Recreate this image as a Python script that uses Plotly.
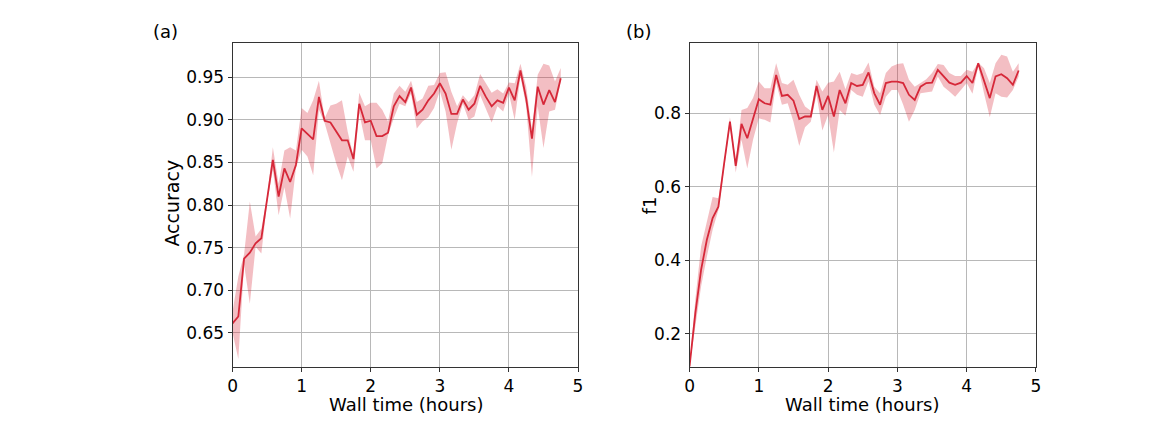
import plotly.graph_objects as go

# ---- data ----
time_hours = [i / 12 for i in range(58)]

acc_mean = [0.661, 0.669, 0.737, 0.744, 0.755, 0.761, 0.807, 0.853, 0.810, 0.843,
            0.827, 0.847, 0.890, 0.883, 0.877, 0.927, 0.899, 0.897, 0.886, 0.876,
            0.876, 0.854, 0.919, 0.897, 0.899, 0.881, 0.881, 0.885, 0.916, 0.928,
            0.921, 0.938, 0.906, 0.912, 0.923, 0.931, 0.943, 0.931, 0.907, 0.907,
            0.924, 0.912, 0.919, 0.940, 0.927, 0.916, 0.923, 0.920, 0.938, 0.923,
            0.958, 0.925, 0.878, 0.939, 0.918, 0.935, 0.921, 0.949]
acc_upper = [0.675, 0.716, 0.742, 0.804, 0.763, 0.772, 0.810, 0.868, 0.825, 0.864,
             0.868, 0.864, 0.914, 0.908, 0.923, 0.946, 0.902, 0.917, 0.919, 0.923,
             0.886, 0.857, 0.932, 0.916, 0.920, 0.920, 0.912, 0.898, 0.931, 0.940,
             0.933, 0.946, 0.921, 0.925, 0.940, 0.941, 0.955, 0.956, 0.933, 0.916,
             0.929, 0.921, 0.929, 0.954, 0.943, 0.932, 0.936, 0.931, 0.944, 0.943,
             0.966, 0.939, 0.888, 0.953, 0.966, 0.964, 0.945, 0.961]
acc_lower = [0.650, 0.619, 0.730, 0.684, 0.751, 0.743, 0.803, 0.841, 0.788, 0.821,
             0.784, 0.843, 0.865, 0.857, 0.835, 0.912, 0.896, 0.871, 0.849, 0.829,
             0.857, 0.839, 0.908, 0.876, 0.876, 0.843, 0.849, 0.882, 0.902, 0.919,
             0.916, 0.931, 0.890, 0.898, 0.903, 0.914, 0.934, 0.910, 0.865, 0.896,
             0.919, 0.900, 0.904, 0.929, 0.912, 0.897, 0.916, 0.910, 0.931, 0.900,
             0.951, 0.916, 0.833, 0.916, 0.867, 0.910, 0.912, 0.945]

f1_mean = [0.111, 0.256, 0.374, 0.456, 0.515, 0.546, 0.664, 0.777, 0.657, 0.771,
           0.732, 0.782, 0.838, 0.827, 0.823, 0.904, 0.847, 0.850, 0.834, 0.784,
           0.791, 0.791, 0.874, 0.809, 0.847, 0.791, 0.863, 0.827, 0.882, 0.874,
           0.877, 0.911, 0.854, 0.823, 0.882, 0.886, 0.886, 0.882, 0.850, 0.836,
           0.872, 0.882, 0.883, 0.918, 0.900, 0.883, 0.877, 0.883, 0.901, 0.882,
           0.936, 0.891, 0.841, 0.900, 0.906, 0.895, 0.877, 0.916]
f1_upper = [0.115, 0.293, 0.438, 0.505, 0.572, 0.569, 0.669, 0.789, 0.669, 0.809,
            0.814, 0.841, 0.886, 0.868, 0.868, 0.936, 0.882, 0.877, 0.891, 0.850,
            0.818, 0.807, 0.891, 0.859, 0.883, 0.886, 0.913, 0.865, 0.909, 0.904,
            0.909, 0.938, 0.872, 0.854, 0.909, 0.927, 0.934, 0.936, 0.891, 0.872,
            0.883, 0.892, 0.909, 0.934, 0.931, 0.909, 0.901, 0.901, 0.918, 0.913,
            0.938, 0.922, 0.882, 0.936, 0.959, 0.954, 0.913, 0.936]
f1_lower = [0.111, 0.220, 0.329, 0.410, 0.483, 0.537, 0.657, 0.766, 0.639, 0.728,
            0.650, 0.728, 0.786, 0.782, 0.775, 0.882, 0.823, 0.827, 0.777, 0.711,
            0.762, 0.777, 0.850, 0.753, 0.795, 0.693, 0.809, 0.793, 0.863, 0.850,
            0.845, 0.886, 0.823, 0.795, 0.845, 0.863, 0.863, 0.823, 0.777, 0.809,
            0.854, 0.856, 0.859, 0.900, 0.872, 0.859, 0.845, 0.863, 0.882, 0.853,
            0.927, 0.854, 0.789, 0.854, 0.845, 0.843, 0.863, 0.900]

x_ticks = [0, 1, 2, 3, 4, 5]
acc_ticks = [0.65, 0.70, 0.75, 0.80, 0.85, 0.90, 0.95]
f1_ticks = [0.2, 0.4, 0.6, 0.8]

LINE = "#d62839"
FILL = "rgba(214,40,57,0.30)"
FONT = "DejaVu Sans"

# page body has an 8px margin; the figure is sized so it fills the window
OFF = 8
W, H = 1152 - OFF, 432 - OFF

def px(X):
    return (X - OFF) / W

def py(Y):
    return 1 - (Y - OFF) / H

fig = go.Figure()

def add_panel(xa, ya, mean, upper, lower):
    fig.add_trace(go.Scatter(x=time_hours, y=upper, mode="lines", line=dict(width=0),
                             xaxis=xa, yaxis=ya, showlegend=False, hoverinfo="skip"))
    fig.add_trace(go.Scatter(x=time_hours, y=lower, mode="lines", line=dict(width=0),
                             fill="tonexty", fillcolor=FILL,
                             xaxis=xa, yaxis=ya, showlegend=False, hoverinfo="skip"))
    fig.add_trace(go.Scatter(x=time_hours, y=mean, mode="lines",
                             line=dict(color=LINE, width=1.8),
                             xaxis=xa, yaxis=ya, showlegend=False))

add_panel("x", "y", acc_mean, acc_upper, acc_lower)
add_panel("x2", "y2", f1_mean, f1_upper, f1_lower)

axis_common = dict(
    showline=True, linecolor="#333333", linewidth=1, mirror=True,
    ticks="outside", ticklen=4, tickwidth=1, tickcolor="#333333",
    showgrid=True, gridcolor="#b8b8b8", gridwidth=1,
    zeroline=False,
    tickfont=dict(family=FONT, size=17, color="#000000"),
)

ydom = [py(366.7), py(43.3)]
fig.update_layout(
    width=W, height=H,
    margin=dict(l=0, r=0, t=0, b=0),
    paper_bgcolor="white", plot_bgcolor="white",
    font=dict(family=FONT, size=17, color="#000000"),
    xaxis=dict(domain=[px(229.5), px(578)], range=[0, 5], tickvals=x_ticks,
               ticktext=[str(t) for t in x_ticks], anchor="y", **axis_common),
    yaxis=dict(domain=ydom, range=[0.61, 0.99], tickvals=acc_ticks,
               ticktext=[f"{t:.2f}" for t in acc_ticks], anchor="x", **axis_common),
    xaxis2=dict(domain=[px(690.5), px(1040)], range=[0, 5], tickvals=x_ticks,
                ticktext=[str(t) for t in x_ticks], anchor="y2", **axis_common),
    yaxis2=dict(domain=ydom, range=[0.111, 0.99], tickvals=f1_ticks,
                ticktext=[f"{t:.1f}" for t in f1_ticks], anchor="x2", **axis_common),
)

ann = [
    dict(text="(a)", x=px(147), y=py(32), xanchor="left", yanchor="middle", size=18),
    dict(text="(b)", x=px(624), y=py(32), xanchor="left", yanchor="middle", size=18),
    dict(text="Wall time (hours)", x=px(404), y=py(404), xanchor="center", yanchor="middle", size=18),
    dict(text="Wall time (hours)", x=px(864), y=py(404), xanchor="center", yanchor="middle", size=18),
    dict(text="Accuracy", x=px(168), y=py(203), xanchor="center", yanchor="middle", textangle=-90, size=19),
    dict(text="f1", x=px(651), y=py(205), xanchor="center", yanchor="middle", textangle=-90, size=18),
]
for a in ann:
    size = a.pop("size")
    fig.add_annotation(xref="paper", yref="paper", showarrow=False,
                       font=dict(family=FONT, size=size, color="#000000"), **a)

fig.write_html("out.html")
